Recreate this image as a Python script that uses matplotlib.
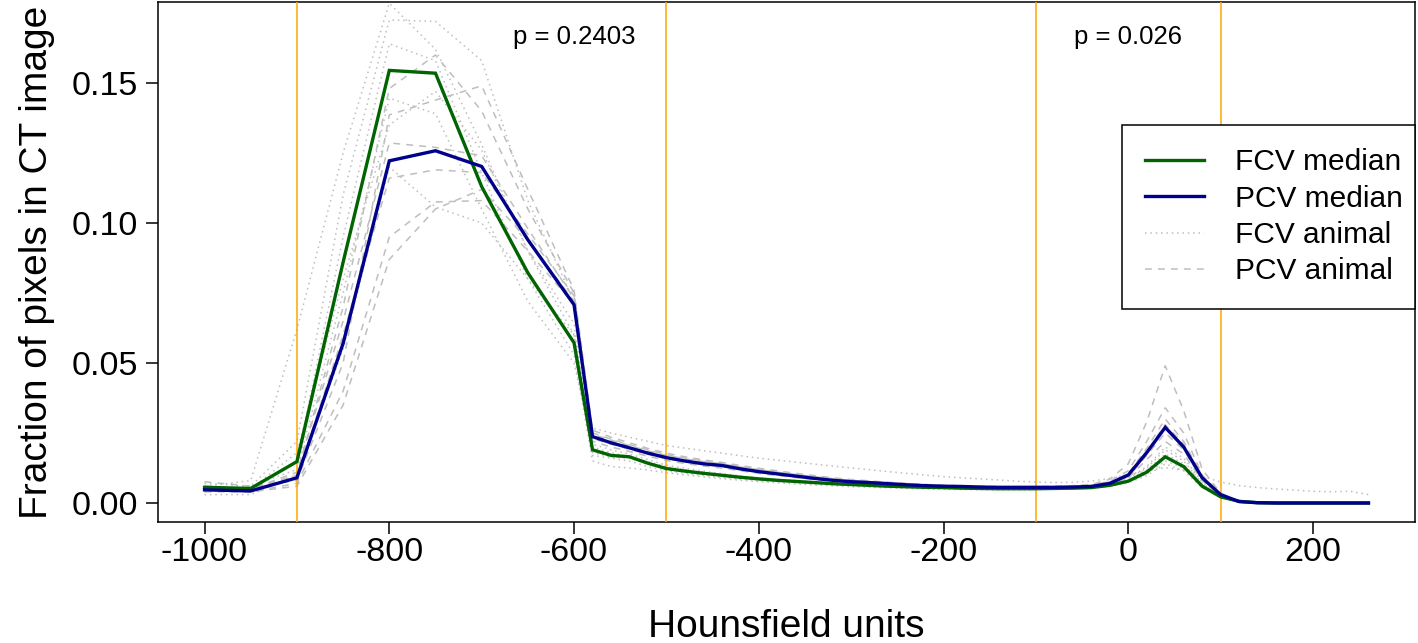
import matplotlib
matplotlib.use("Agg")
import matplotlib.pyplot as plt
from matplotlib.lines import Line2D

plt.rcParams['font.family'] = ['Liberation Sans', 'DejaVu Sans']

# ---------------- data ----------------
hu = [-1000, -950, -900, -850, -800, -750, -700, -650, -600,
      -580, -560, -540, -520, -500, -480, -460, -440, -420, -400,
      -380, -360, -340, -320, -300, -280, -260, -240, -220, -200,
      -180, -160, -140, -120, -100, -80, -60, -40, -20, 0,
      20, 40, 60, 80, 100, 120, 140, 160, 180, 200, 220, 240, 260]

fcv_median = [0.0056, 0.0052, 0.0148, 0.086, 0.1545, 0.1535, 0.113, 0.0822, 0.0572,
              0.0190, 0.0170, 0.0165, 0.0142, 0.0123, 0.0114, 0.0106, 0.0099, 0.0092, 0.0086,
              0.0081, 0.0077, 0.0073, 0.0069, 0.0066, 0.0063, 0.0060, 0.0058, 0.0056, 0.0055,
              0.0053, 0.0052, 0.0051, 0.0051, 0.0051, 0.0052, 0.0053, 0.0055, 0.0063, 0.0078,
              0.0110, 0.0165, 0.0130, 0.0060, 0.0022, 0.0006, 0.0001, 0, 0, 0, 0, 0, 0]

pcv_median = [0.0047, 0.0043, 0.0090, 0.057, 0.1222, 0.1258, 0.1202, 0.094, 0.0708,
              0.0237, 0.0215, 0.0197, 0.0178, 0.0162, 0.0150, 0.0140, 0.0134, 0.0122, 0.0112,
              0.0104, 0.0096, 0.0088, 0.0081, 0.0076, 0.0073, 0.0069, 0.0065, 0.0062, 0.0060,
              0.0059, 0.0057, 0.0056, 0.0056, 0.0056, 0.0056, 0.0057, 0.0059, 0.0070, 0.0100,
              0.0180, 0.0270, 0.0200, 0.0090, 0.0030, 0.0005, 0.0001, 0, 0, 0, 0, 0, 0]

fcv_animal_1 = [0.0060, 0.0080, 0.0620, 0.125, 0.1785, 0.162, 0.128, 0.090, 0.060,
                0.0170, 0.0160, 0.0150, 0.0130, 0.0115, 0.0106, 0.0098, 0.0091, 0.0085, 0.0080,
                0.0076, 0.0072, 0.0068, 0.0065, 0.0062, 0.0059, 0.0057, 0.0055, 0.0054, 0.0053,
                0.0052, 0.0051, 0.0050, 0.0050, 0.0051, 0.0052, 0.0054, 0.0058, 0.0068, 0.0088,
                0.0125, 0.0190, 0.0150, 0.0070, 0.0025, 0.0007, 0.0002, 0, 0, 0, 0, 0, 0]
fcv_animal_2 = [0.0050, 0.0060, 0.0220, 0.110, 0.1725, 0.172, 0.158, 0.108, 0.072,
                0.0200, 0.0180, 0.0165, 0.0148, 0.0130, 0.0119, 0.0110, 0.0102, 0.0095, 0.0089,
                0.0083, 0.0078, 0.0074, 0.0070, 0.0067, 0.0064, 0.0061, 0.0059, 0.0057, 0.0055,
                0.0054, 0.0053, 0.0052, 0.0052, 0.0052, 0.0053, 0.0055, 0.0058, 0.0066, 0.0082,
                0.0118, 0.0175, 0.0140, 0.0065, 0.0024, 0.0006, 0.0001, 0, 0, 0, 0, 0, 0]
fcv_animal_3 = [0.0040, 0.0050, 0.0150, 0.095, 0.164, 0.158, 0.118, 0.080, 0.053,
                0.0150, 0.0130, 0.0125, 0.0118, 0.0108, 0.0100, 0.0093, 0.0087, 0.0081, 0.0076,
                0.0072, 0.0068, 0.0064, 0.0061, 0.0058, 0.0056, 0.0054, 0.0052, 0.0050, 0.0049,
                0.0048, 0.0047, 0.0047, 0.0047, 0.0048, 0.0049, 0.0051, 0.0054, 0.0060, 0.0072,
                0.0098, 0.0140, 0.0115, 0.0055, 0.0020, 0.0005, 0.0001, 0, 0, 0, 0, 0, 0]
fcv_animal_4 = [0.0070, 0.0060, 0.0120, 0.075, 0.1446, 0.139, 0.105, 0.072, 0.050,
                0.0210, 0.0190, 0.0175, 0.0155, 0.0135, 0.0124, 0.0114, 0.0105, 0.0097, 0.0090,
                0.0085, 0.0080, 0.0076, 0.0072, 0.0069, 0.0066, 0.0063, 0.0061, 0.0059, 0.0057,
                0.0056, 0.0055, 0.0054, 0.0054, 0.0055, 0.0056, 0.0058, 0.0062, 0.0072, 0.0090,
                0.0130, 0.0200, 0.0160, 0.0075, 0.0028, 0.0008, 0.0002, 0, 0, 0, 0, 0, 0]
fcv_animal_5 = [0.0030, 0.0030, 0.0100, 0.055, 0.120, 0.1057, 0.100, 0.080, 0.060,
                0.0268, 0.0250, 0.0235, 0.0220, 0.0205, 0.0196, 0.0187, 0.0178, 0.0169, 0.0160,
                0.0153, 0.0146, 0.0139, 0.0132, 0.0125, 0.0119, 0.0112, 0.0106, 0.0100, 0.0094,
                0.0090, 0.0086, 0.0082, 0.0078, 0.0075, 0.0073, 0.0074, 0.0078, 0.0088, 0.0102,
                0.0115, 0.0126, 0.0118, 0.0095, 0.0075, 0.0062, 0.0055, 0.0050, 0.0046, 0.0042,
                0.0040, 0.0042, 0.0030]
fcv_animal_6 = [0.0050, 0.0050, 0.0180, 0.080, 0.135, 0.147, 0.126, 0.090, 0.064,
                0.0180, 0.0165, 0.0160, 0.0140, 0.0120, 0.0111, 0.0103, 0.0096, 0.0090, 0.0084,
                0.0079, 0.0075, 0.0071, 0.0067, 0.0064, 0.0061, 0.0058, 0.0056, 0.0054, 0.0052,
                0.0051, 0.0050, 0.0049, 0.0049, 0.0049, 0.0050, 0.0051, 0.0054, 0.0061, 0.0075,
                0.0105, 0.0150, 0.0125, 0.0058, 0.0021, 0.0006, 0.0001, 0, 0, 0, 0, 0, 0]

pcv_animal_1 = [0.0076, 0.0060, 0.0080, 0.050, 0.1386, 0.1439, 0.149, 0.112, 0.076,
                0.0260, 0.0235, 0.0215, 0.0195, 0.0178, 0.0165, 0.0154, 0.0145, 0.0134, 0.0124,
                0.0115, 0.0106, 0.0098, 0.0090, 0.0084, 0.0079, 0.0074, 0.0070, 0.0066, 0.0063,
                0.0061, 0.0059, 0.0058, 0.0058, 0.0058, 0.0059, 0.0062, 0.0066, 0.0085, 0.0140,
                0.0290, 0.0490, 0.0330, 0.0120, 0.0035, 0.0006, 0.0001, 0, 0, 0, 0, 0, 0]
pcv_animal_2 = [0.0060, 0.0050, 0.0110, 0.065, 0.1286, 0.127, 0.124, 0.098, 0.073,
                0.0240, 0.0220, 0.0202, 0.0184, 0.0168, 0.0156, 0.0146, 0.0138, 0.0127, 0.0117,
                0.0108, 0.0100, 0.0092, 0.0085, 0.0080, 0.0076, 0.0072, 0.0068, 0.0064, 0.0061,
                0.0060, 0.0058, 0.0057, 0.0057, 0.0057, 0.0058, 0.0060, 0.0063, 0.0078, 0.0115,
                0.0220, 0.0340, 0.0250, 0.0100, 0.0032, 0.0006, 0.0001, 0, 0, 0, 0, 0, 0]
pcv_animal_3 = [0.0050, 0.0050, 0.0090, 0.060, 0.116, 0.119, 0.118, 0.096, 0.074,
                0.0250, 0.0228, 0.0208, 0.0190, 0.0172, 0.0160, 0.0150, 0.0141, 0.0130, 0.0120,
                0.0111, 0.0102, 0.0094, 0.0087, 0.0082, 0.0077, 0.0073, 0.0069, 0.0066, 0.0063,
                0.0061, 0.0059, 0.0058, 0.0058, 0.0058, 0.0059, 0.0061, 0.0064, 0.0075, 0.0105,
                0.0195, 0.0300, 0.0220, 0.0095, 0.0030, 0.0005, 0.0001, 0, 0, 0, 0, 0, 0]
pcv_animal_4 = [0.0040, 0.0040, 0.0070, 0.040, 0.095, 0.1075, 0.108, 0.090, 0.071,
                0.0230, 0.0210, 0.0192, 0.0174, 0.0158, 0.0147, 0.0137, 0.0130, 0.0119, 0.0110,
                0.0102, 0.0094, 0.0087, 0.0080, 0.0075, 0.0071, 0.0067, 0.0064, 0.0061, 0.0059,
                0.0057, 0.0056, 0.0055, 0.0055, 0.0055, 0.0056, 0.0058, 0.0061, 0.0070, 0.0095,
                0.0170, 0.0250, 0.0190, 0.0085, 0.0028, 0.0005, 0.0001, 0, 0, 0, 0, 0, 0]
pcv_animal_5 = [0.0050, 0.0040, 0.0060, 0.035, 0.087, 0.105, 0.112, 0.094, 0.072,
                0.0220, 0.0200, 0.0184, 0.0167, 0.0152, 0.0141, 0.0132, 0.0125, 0.0115, 0.0106,
                0.0098, 0.0091, 0.0084, 0.0078, 0.0073, 0.0069, 0.0065, 0.0062, 0.0059, 0.0057,
                0.0055, 0.0054, 0.0053, 0.0053, 0.0053, 0.0054, 0.0056, 0.0059, 0.0067, 0.0090,
                0.0155, 0.0220, 0.0175, 0.0080, 0.0026, 0.0004, 0.0001, 0, 0, 0, 0, 0, 0]
pcv_animal_6 = [0.0060, 0.0050, 0.0100, 0.070, 0.148, 0.160, 0.140, 0.105, 0.075,
                0.0245, 0.0225, 0.0205, 0.0186, 0.0170, 0.0158, 0.0148, 0.0140, 0.0128, 0.0119,
                0.0110, 0.0102, 0.0094, 0.0087, 0.0081, 0.0076, 0.0071, 0.0067, 0.0064, 0.0061,
                0.0059, 0.0057, 0.0056, 0.0056, 0.0056, 0.0057, 0.0059, 0.0062, 0.0072, 0.0100,
                0.0185, 0.0280, 0.0210, 0.0090, 0.0030, 0.0005, 0.0001, 0, 0, 0, 0, 0, 0]

fcv_animals = [fcv_animal_1, fcv_animal_2, fcv_animal_3, fcv_animal_4, fcv_animal_5, fcv_animal_6]
pcv_animals = [pcv_animal_1, pcv_animal_2, pcv_animal_3, pcv_animal_4, pcv_animal_5, pcv_animal_6]

boundaries = [-900, -500, -100, 100]
p_labels = ["p = 0.2403", "p = 0.026"]
p_x = [-600, 0]
p_y = 0.1665

x_ticks = [-1000, -800, -600, -400, -200, 0, 200]
y_ticks = [0.00, 0.05, 0.10, 0.15]
legend_labels = ["FCV median", "PCV median", "FCV animal", "PCV animal"]

# ---------------- styles ----------------
GREEN = '#006400'
BLUE = '#00008B'
GRAY = '#BEBEBE'
ORANGE = '#FFA500'
DOT = (0, (1.0, 2.5))
DASH = (0, (4.5, 4.0))

W, H = 1418, 643
fig = plt.figure(figsize=(W / 100, H / 100), dpi=100)
left, right, top, bottom = 158, 1415, 2, 522
AW, AH = right - left, bottom - top
ax = fig.add_axes([left / W, 1 - bottom / H, AW / W, AH / H])

for s in fcv_animals:
    ax.plot(hu, s, color=GRAY, lw=1.1, linestyle=DOT, zorder=2)
for s in pcv_animals:
    ax.plot(hu, s, color=GRAY, lw=1.1, linestyle=DASH, zorder=2)

ax.plot(hu, fcv_median, color=GREEN, lw=2.4, zorder=4, solid_joinstyle='miter')
ax.plot(hu, pcv_median, color=BLUE, lw=2.4, zorder=4, solid_joinstyle='miter')

for b in boundaries:
    ax.axvline(b, color=ORANGE, lw=1.1, zorder=3)

for lab, xx in zip(p_labels, p_x):
    ax.text(xx, p_y, lab, ha='center', va='center', fontsize=18.5, color='black')

ax.set_xlim(-1050.4, 310.4)
ax.set_ylim(-19 / 2800, 501 / 2800)
ax.set_xticks(x_ticks)
ax.set_xticklabels([f"{v:d}" for v in x_ticks])
ax.set_yticks(y_ticks)
ax.set_yticklabels([f"{v:.2f}" for v in y_ticks])
ax.tick_params(axis='x', length=8.5, width=1.1, labelsize=24.5, pad=2, direction='out')
ax.tick_params(axis='y', length=9, width=1.1, labelsize=24.5, pad=5.5, direction='out')
for sp in ax.spines.values():
    sp.set_linewidth(1.1)
    sp.set_color('black')

ax.set_xlabel("Hounsfield units", fontsize=28, labelpad=30)
ax.set_ylabel("Fraction of pixels in CT image", fontsize=28, labelpad=12)

handles = [Line2D([], [], color=GREEN, lw=2.4),
           Line2D([], [], color=BLUE, lw=2.4),
           Line2D([], [], color=GRAY, lw=1.1, linestyle=DOT),
           Line2D([], [], color=GRAY, lw=1.1, linestyle=DASH)]
leg_x0 = (1122 - left) / AW
leg_w = (1415 - 1122) / AW
leg_top = 1 - (125 - top) / AH
leg = ax.legend(handles, legend_labels, loc='upper left',
                bbox_to_anchor=(leg_x0, leg_top, leg_w, 0), mode='expand',
                fontsize=21.5, frameon=True, fancybox=False, framealpha=1,
                edgecolor='black', borderaxespad=0, borderpad=0.78,
                handlelength=1.95, handletextpad=1.04, labelspacing=0.28)
leg.get_frame().set_linewidth(1.1)
leg.set_zorder(6)

fig.savefig("out.png", dpi=100, facecolor='white')
